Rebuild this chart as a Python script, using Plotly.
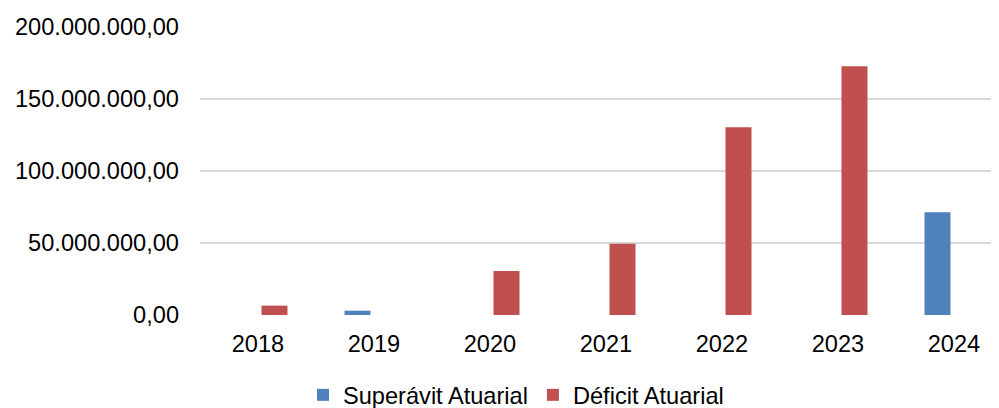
import plotly.graph_objects as go

years = ["2018", "2019", "2020", "2021", "2022", "2023", "2024"]
superavit = [None, 3_000_000, None, None, None, None, 71_300_000]
deficit = [6_500_000, None, 30_500_000, 49_400_000, 130_300_000, 172_700_000, None]
y_ticks = [0, 50_000_000, 100_000_000, 150_000_000, 200_000_000]

BLUE = "#4F81BD"
RED = "#C0504D"
FONT = dict(family="Liberation Sans, Arial, sans-serif", size=23.6, color="#000000")

# The page body has an 8px margin, so the figure is 991x400 and sits at (8, 8).
W, H = 991, 400

fig = go.Figure()
fig.add_trace(go.Bar(name="Superávit Atuarial", x=years, y=superavit,
                     marker=dict(color=BLUE, line=dict(width=0))))
fig.add_trace(go.Bar(name="Déficit Atuarial", x=years, y=deficit,
                     marker=dict(color=RED, line=dict(width=0))))

fig.update_layout(
    width=W, height=H,
    margin=dict(l=192, r=0, t=19, b=93, autoexpand=False),
    paper_bgcolor="white", plot_bgcolor="white",
    font=FONT,
    separators=",.",
    barmode="group",
    bargap=0.431,
    bargroupgap=0.212,
    showlegend=True,
    legend=dict(orientation="h", xref="container", yref="container",
                x=508 / W, xanchor="center", y=1 - 387 / H, yanchor="middle",
                font=FONT, bgcolor="rgba(0,0,0,0)"),
    xaxis=dict(type="category", range=[-0.5, 6.388], showgrid=False,
               showline=False, zeroline=False, ticks="", ticklabelstandoff=12,
               tickfont=FONT, automargin=False),
    yaxis=dict(range=[0, 200_000_000], tickvals=y_ticks, tickformat=",.2f",
               showgrid=True, gridcolor="#d9d9d9", gridwidth=1.5,
               zeroline=False, showline=False, ticks="",
               ticklabelstandoff=20, tickfont=FONT, automargin=False),
)

fig.write_html("out.html")
